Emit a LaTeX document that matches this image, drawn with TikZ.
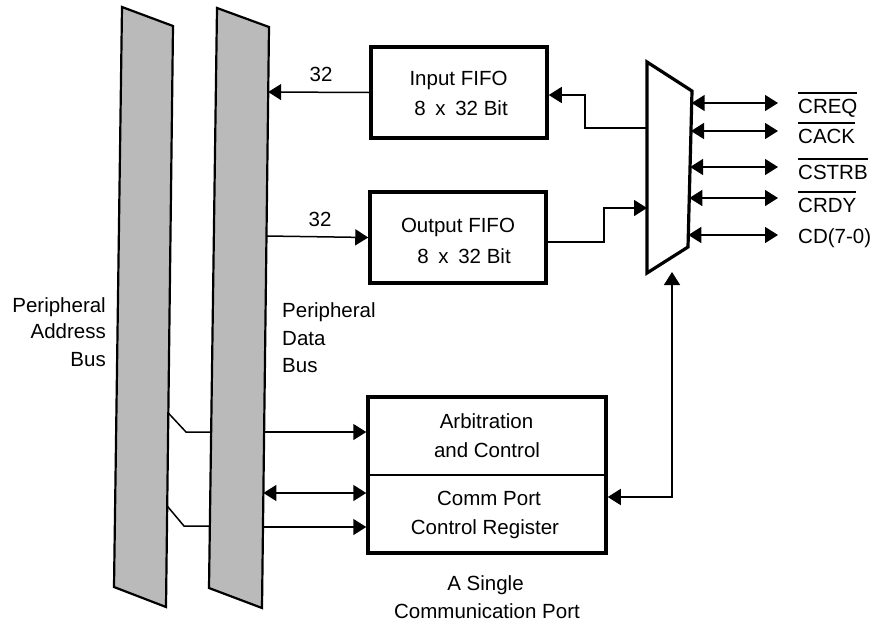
\documentclass[tikz,border=0pt]{standalone}
\usepackage{fontspec}
\setmainfont{Liberation Sans}
\usetikzlibrary{arrows.meta,calc}
\newcommand\ovbar[1]{\setbox0=\hbox{#1}\rlap{\rule[\dimexpr\ht0+5pt\relax]{\wd0}{1.3pt}}\box0}
\begin{document}
\begin{tikzpicture}[x=1pt,y=-1pt,
  conn/.style={line width=1.5pt},
  tipR/.style={-{Triangle[length=13pt,width=16pt]}},
  tipB/.style={{Triangle[length=13pt,width=16pt]}-{Triangle[length=13pt,width=16pt]}},
  box/.style={draw,line width=3.5pt,inner sep=0pt},
  busshape/.style={draw,line width=2.2pt,fill=black!27,line join=miter},
  txt/.style={inner sep=0pt,font=\fontsize{20.5}{24}\selectfont}]
\useasboundingbox (0,0) rectangle (875,627);

% buses
\coordinate (a1) at (122,7);  \coordinate (a2) at (173,26);
\coordinate (a3) at (166,607); \coordinate (a4) at (114,587);
\coordinate (d1) at (217,8);  \coordinate (d2) at (269,27);
\coordinate (d3) at (262,608); \coordinate (d4) at (209,588);
\draw[busshape] (a1) -- (a2) -- (a3) -- (a4) -- cycle;
\draw[busshape] (d1) -- (d2) -- (d3) -- (d4) -- cycle;

% mux
\coordinate (m1) at (647,62);  \coordinate (m2) at (692,91);
\coordinate (m3) at (688,247); \coordinate (m4) at (647,273);
\draw[line width=3.2pt,line join=miter] (m1) -- (m2) -- (m3) -- (m4) -- cycle;

% boxes
\node[box,minimum width=176pt,minimum height=91pt] (ififo) at (459,92.5) {};
\node[box,minimum width=176pt,minimum height=91pt] (ofifo) at (458,237.5) {};
\node[box,minimum width=238pt,minimum height=156pt] (arb) at (487,475) {};
\draw[line width=1.6pt] (arb.west) -- (arb.east);

% box texts
\node[txt,anchor=base] (t1) at (458.5,85) {Input FIFO};
\node[txt,anchor=base] (t2) at (461,115) {8\hspace{4pt} x\hspace{4pt} 32 Bit};
\node[txt,anchor=base] (t3) at (458,232) {Output FIFO};
\node[txt,anchor=base] (t4) at (464,263) {8\hspace{4pt} x\hspace{4pt} 32 Bit};
\node[txt,anchor=base] (t5) at (486.5,428) {Arbitration};
\node[txt,anchor=base] (t6) at (487,457) {and Control};
\node[txt,anchor=base] (t7) at (489,505) {Comm Port};
\node[txt,anchor=base] (t8) at (485,534) {Control Register};

% other labels
\node[txt,anchor=base] (n32a) at (321,81) {32};
\node[txt,anchor=base] (n32b) at (320,226) {32};
\node[txt,anchor=base east] (pa1) at (106,312) {Peripheral};
\node[txt,anchor=base east] (pa2) at (106,338) {Address};
\node[txt,anchor=base east] (pa3) at (106,366) {Bus};
\node[txt,anchor=base west] (pd1) at (282,317) {Peripheral};
\node[txt,anchor=base west] (pd2) at (282,345) {Data};
\node[txt,anchor=base west] (pd3) at (282,372) {Bus};
\node[txt,anchor=base] (sp1) at (485.5,590) {A Single};
\node[txt,anchor=base] (sp2) at (487,618) {Communication Port};

% signal labels
\node[txt,anchor=base west] (l1) at (798,113) {\ovbar{CREQ}};
\node[txt,anchor=base west] (l2) at (798,143) {\ovbar{CACK}};
\node[txt,anchor=base west] (l3) at (798,179) {\ovbar{CSTRB}};
\node[txt,anchor=base west] (l4) at (798,212) {\ovbar{CRDY}};
\node[txt,anchor=base west] (l5) at (798,243) {CD(7-0)};

% signal arrows
\coordinate (e1) at (691.7,103); \coordinate (s1) at (778,103);
\coordinate (e2) at (691.0,131); \coordinate (s2) at (778,131);
\coordinate (e3) at (690.1,167); \coordinate (s3) at (778,167);
\coordinate (e4) at (689.3,198); \coordinate (s4) at (778,198);
\coordinate (e5) at (688.3,235); \coordinate (s5) at (778,235);
\foreach \i in {1,...,5} \draw[conn,tipB] (e\i) -- (s\i);

% FIFO <-> bus
\coordinate (dI) at (268.2,92);
\coordinate (dO) at (266.5,236);
\draw[conn,tipR] (ififo.west) -- (dI);
\draw[conn,tipR] (dO) -- (ofifo.west);

% FIFO <-> mux
\coordinate (mI) at (647,128);
\coordinate (mO) at (647,208);
\draw[conn,tipR] (mI) -- (585,128) -- (585,95) -- ($(ififo.east)+(0,2.5)$);
\draw[conn,tipR] ($(ofifo.east)+(0,4.5)$) -- (604,242) -- (604,208) -- (mO);

% mux <-> control
\coordinate (mb) at (672,272);
\draw[conn,tipB] (mb) -- (672,497) -- ($(arb.east)+(0,22)$);

% bus <-> control
\coordinate (dA1) at (264.1,432);
\coordinate (dA2) at (263.4,493);
\coordinate (dA3) at (263.0,527);
\draw[conn,tipR] (dA1) -- ($(arb.west)+(0,-43)$);
\draw[conn,tipB] (dA2) -- ($(arb.west)+(0,18)$);
\draw[conn,tipR] (dA3) -- ($(arb.west)+(0,52)$);

% address bus -> data bus
\coordinate (aR1) at (168.3,413); \coordinate (dL1) at (211.2,432);
\coordinate (aR2) at (167.2,506); \coordinate (dL2) at (209.9,526);
\draw[conn] (aR1) -- (186,432) -- (dL1);
\draw[conn] (aR2) -- (184,526) -- (dL2);
\end{tikzpicture}
\end{document}
